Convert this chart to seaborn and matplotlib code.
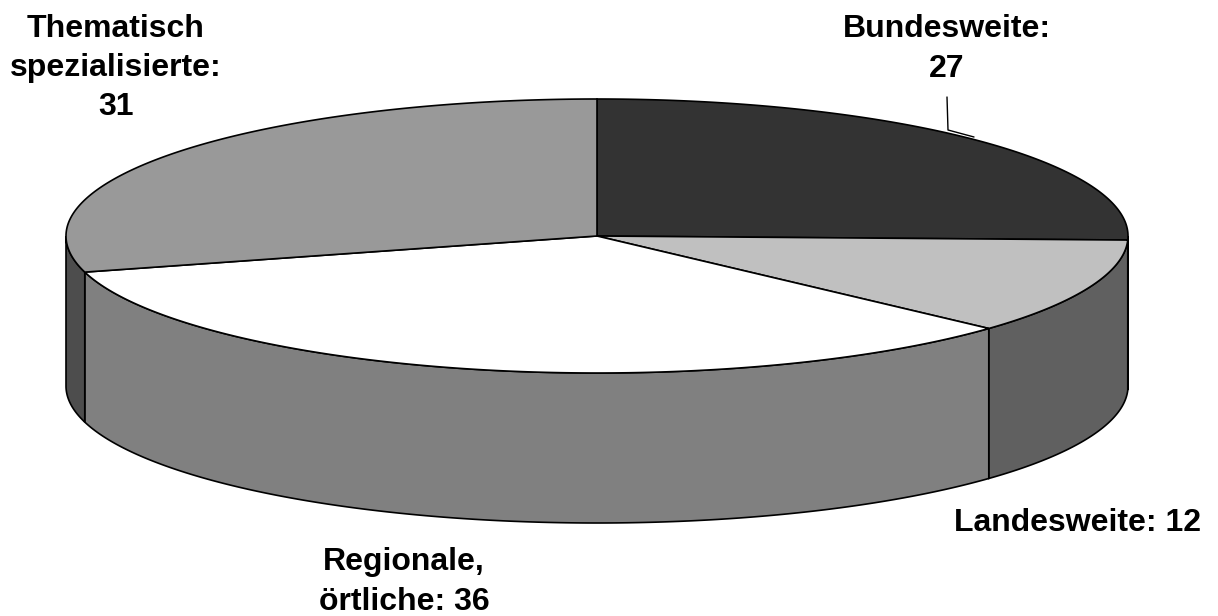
import numpy as np
import seaborn as sns
import matplotlib.pyplot as plt
from matplotlib.patches import Polygon

sns.set_style("white")
plt.rcParams['font.family'] = ['Liberation Sans', 'DejaVu Sans']

categories = ["Bundesweite", "Landesweite", "Regionale, örtliche", "Thematisch spezialisierte"]
values = [27, 12, 36, 31]
label_texts = ["Bundesweite:\n27", "Landesweite: 12", "Regionale,\nörtliche: 36",
               "Thematisch\nspezialisierte:\n31"]
top_colors = ["#333333", "#c0c0c0", "#ffffff", "#999999"]
side_colors = ["#1f1f1f", "#606060", "#808080", "#4d4d4d"]

# geometry in pixel units
cx, cy = 597, 236
rx, ry = 531, 137
depth = 150

fig = plt.figure(figsize=(12.18, 6.16), dpi=100)
ax = fig.add_axes([0, 0, 1, 1])
ax.set_xlim(0, 1218)
ax.set_ylim(616, 0)
ax.axis("off")


def pt(theta, dy=0):
    t = np.radians(theta)
    return cx + rx * np.cos(t), cy - ry * np.sin(t) + dy


total = sum(values)
bounds = [90]
for v in values:
    bounds.append(bounds[-1] - v / total * 360)

# side walls (front half: angles between -180 and 0)
for i in range(len(values)):
    a0, a1 = bounds[i], bounds[i + 1]
    lo, hi = max(a1, -180), min(a0, 0)
    if lo >= hi:
        continue
    th = np.linspace(hi, lo, 200)
    topx, topy = pt(th)
    botx, boty = pt(th[::-1], depth)
    xs = np.concatenate([topx, botx])
    ys = np.concatenate([topy, boty])
    ax.add_patch(Polygon(np.column_stack([xs, ys]), closed=True,
                         facecolor=side_colors[i], edgecolor="black", lw=1.2))

# top faces
for i in range(len(values)):
    th = np.linspace(bounds[i], bounds[i + 1], 300)
    x, y = pt(th)
    xs = np.concatenate([[cx], x])
    ys = np.concatenate([[cy], y])
    ax.add_patch(Polygon(np.column_stack([xs, ys]), closed=True,
                         facecolor=top_colors[i], edgecolor="black", lw=1.2))

# leader line for Bundesweite
ax.plot([947, 948, 974], [97, 130, 137], color="black", lw=1)

label_pos = [(947, 49), (1078, 523), (404, 582), (116, 68)]
for (x, y), txt in zip(label_pos, label_texts):
    ax.text(x, y, txt, ha="center", va="center", multialignment="center",
            fontsize=23, fontweight="bold", linespacing=1.4, color="black")

fig.savefig("out.png", dpi=100)
